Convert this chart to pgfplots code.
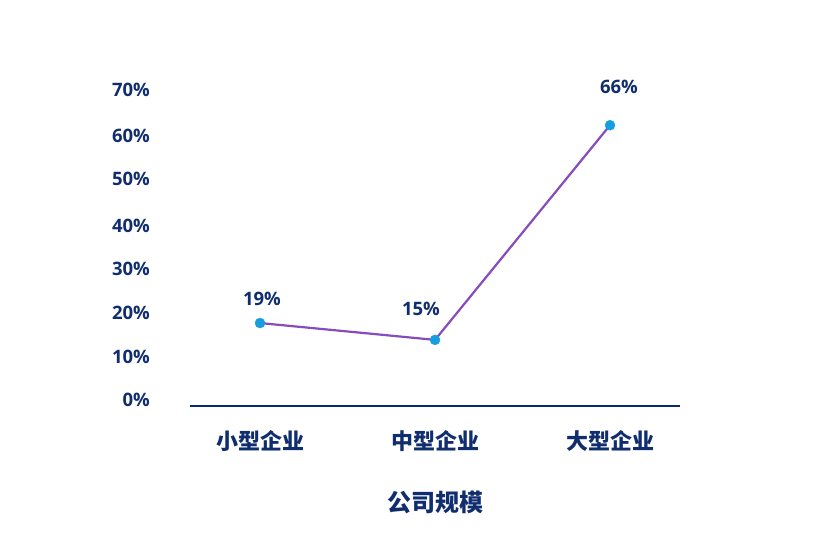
\documentclass[border=0pt]{standalone}
\usepackage{pgfplots}
\pgfplotsset{compat=1.18}
\usepackage{fontspec}
\setmainfont{Open Sans}
\newfontfamily\cjk{Noto Sans CJK SC}
\definecolor{navy}{RGB}{16,45,110}
\definecolor{axisnavy}{RGB}{10,40,120}
\definecolor{dotblue}{RGB}{22,158,224}
\definecolor{linepurple}{RGB}{134,76,188}
\begin{document}
\begin{tikzpicture}
\path (0,0) rectangle (815pt,560pt);
\begin{axis}[
  at={(190pt,154pt)}, anchor=south west,
  scale only axis, width=490pt, height=346pt,
  xmin=-0.4, xmax=2.4, ymin=-0.71, ymax=81.5,
  axis x line*=bottom, axis y line*=left,
  x axis line style={-, line width=2.4pt, color=axisnavy},
  y axis line style={draw=none},
  major tick length=0pt,
  xtick={0,1,2},
  xticklabels={小型企业,中型企业,大型企业},
  xticklabel style={font=\cjk\bfseries\fontsize{22}{22}\selectfont, text=navy, anchor=center, yshift=-35pt},
  ytick={0.71,10.9,21.4,31.8,42.2,53.2,63.4,74.3},
  yticklabels={0\%,10\%,20\%,30\%,40\%,50\%,60\%,70\%},
  yticklabel style={font=\bfseries\fontsize{18.5}{18.5}\selectfont, text=navy, anchor=east, inner sep=0pt, xshift=-40pt},
  xlabel={公司规模},
  xlabel style={at={(axis description cs:0.5,0)}, anchor=center, yshift=-96pt, font=\cjk\bfseries\fontsize{24}{24}\selectfont, text=navy},
  clip=false,
]
\addplot[color=linepurple, line width=2.2pt, mark=*, mark size=5pt,
  mark options={fill=dotblue, draw=dotblue, line width=0.4pt},
  point meta=explicit symbolic,
  visualization depends on={\thisrow{dx} \as \dx},
  visualization depends on={\thisrow{dy} \as \dy},
  nodes near coords={\pgfplotspointmeta\%},
  nodes near coords style={anchor=center, xshift=\dx pt, yshift=\dy pt, font=\bfseries\fontsize{18.5}{18.5}\selectfont, text=navy}]
  table[x=x, y=y, meta=lab] {
x y lab dx dy
0 19 19 2 24
1 15 15 -14 31
2 66 66 9 38
};
\end{axis}
\end{tikzpicture}
\end{document}
